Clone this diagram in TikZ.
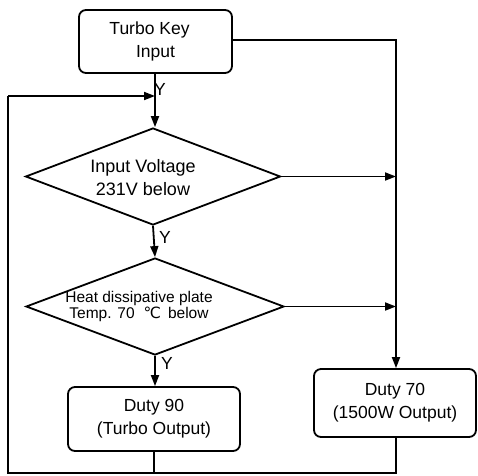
\documentclass[tikz,border=0pt]{standalone}
\usepackage{fontspec}
\setmainfont{Liberation Sans}
\newfontfamily\dejavu{DejaVu Sans}
\usetikzlibrary{shapes.geometric,arrows.meta}
\begin{document}
\begin{tikzpicture}[x=1pt,y=-1pt,line width=1.8pt,
  procbox/.style={draw,rounded corners=7pt,align=center,inner sep=0pt,
    font=\fontsize{17.5}{23}\selectfont},
  decision/.style={draw,diamond,inner sep=0pt},
  dtext/.style={align=center,inner sep=0pt},
  lbl/.style={inner sep=0pt,font=\fontsize{17.5}{20}\selectfont},
  arr/.style={-{Triangle[length=11pt,width=8pt]}}]
\useasboundingbox (0,0) rectangle (478,475);
% shapes
\node[procbox,minimum width=153pt,minimum height=63pt] (turbo) at (155.5,41.5) {Turbo Key\hspace*{12pt}\\Input};
\node[decision,minimum width=255pt,minimum height=97pt] (d1) at (153,176.5) {};
\node[dtext,font=\fontsize{18}{23}\selectfont] (d1t) at (143,178) {Input Voltage\\231V below};
\node[decision,minimum width=258pt,minimum height=97pt] (d2) at (155,306.5) {};
\node[dtext,font=\fontsize{15.5}{16}\selectfont] (d2t) at (139,306) {Heat dissipative plate\\Temp. 70\hspace{9pt}{\dejavu ℃}\hspace{7pt}below};
\node[procbox,minimum width=172pt,minimum height=64pt] (duty90) at (154,419) {Duty 90\\(Turbo Output)};
\node[procbox,minimum width=162pt,minimum height=68pt] (duty70) at (395,403) {Duty 70\\(1500W Output)};
% junction coordinates
\coordinate (jtop) at (155,96);
\coordinate (rtop) at (396,40);
\coordinate (r1) at (396,176.5);
\coordinate (r2) at (396,306.5);
\coordinate (bl) at (8,473);
\coordinate (tl) at (8,96);
% connectors
\draw[arr] (turbo.south -| jtop) -- (d1.north -| jtop);
\draw (turbo.east |- rtop) -- (rtop) -- (r1);
\draw[arr] (r1) -- (duty70.north -| r1);
\draw[arr] (d1.east) -- (r1);
\draw[arr] (d2.east) -- (r2);
\draw[arr] (d1.south) -- (d2.north);
\draw[arr] (d2.south) -- (duty90.north -| d2.south);
\draw (duty70.south -| r1) -- (bl -| r1) -- (bl) -- (tl);
\draw[arr] (tl) -- (jtop);
\draw (duty90.south) -- (bl -| duty90.south);
% labels
\node[lbl] (y1) at (160,89) {Y};
\node[lbl] (y2) at (165,237) {Y};
\node[lbl] (y3) at (167,363) {Y};
\end{tikzpicture}
\end{document}
